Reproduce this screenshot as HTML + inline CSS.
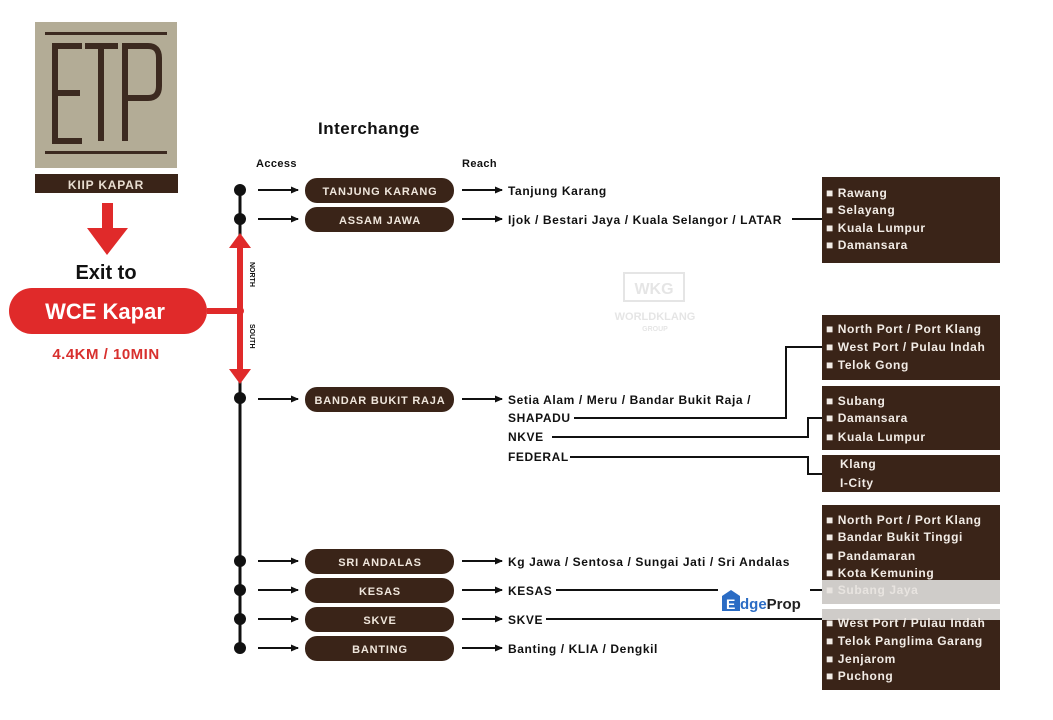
<!DOCTYPE html>
<html><head><meta charset="utf-8"><style>
html,body{margin:0;padding:0;background:#fff;}
svg{display:block}
text{font-family:"Liberation Sans",sans-serif;font-weight:bold;}
</style></head><body>
<svg width="1053" height="720" viewBox="0 0 1053 720" xmlns="http://www.w3.org/2000/svg">
<defs>
<marker id="ah" markerWidth="8" markerHeight="8" refX="7" refY="4" orient="auto" markerUnits="userSpaceOnUse"><path d="M0,0.5 L8,4 L0,7.5 Z" fill="#111"/></marker>
</defs>
<!-- logo -->
<rect x="35" y="22" width="142" height="146" fill="#b3ac96"/>
<rect x="45" y="32" width="122" height="3" fill="#3c2a20"/>
<rect x="45" y="151" width="122" height="3" fill="#3c2a20"/>
<path d="M82,46 H55 V141 H82 M55,93 H80 M85,46 H118 M101,46 V141 M125,141 V46 H148 Q159,46 159,58 V86 Q159,98 148,98 H125" fill="none" stroke="#3c2a20" stroke-width="6"/>
<rect x="35" y="174" width="143" height="19" fill="#3a2418"/>
<text x="106" y="189" fill="#e8ddd0" font-size="12" text-anchor="middle" letter-spacing="0.8">KIIP KAPAR</text>
<!-- red arrow -->
<rect x="102" y="203" width="11" height="27" fill="#e02a2a"/>
<path d="M87,228 L128,228 L107,255 Z" fill="#e02a2a"/>
<text x="106" y="279" font-size="20" text-anchor="middle" fill="#111">Exit to</text>
<rect x="9" y="288" width="198" height="46" rx="23" fill="#e02a2a"/>
<text x="105" y="319" font-size="22" text-anchor="middle" fill="#fff">WCE Kapar</text>
<text x="106" y="359" font-size="15" text-anchor="middle" fill="#d8302e" letter-spacing="0.5">4.4KM / 10MIN</text>
<!-- spine -->
<line x1="240" y1="190" x2="240" y2="648" stroke="#111" stroke-width="3"/>
<rect x="207" y="308" width="33" height="6" fill="#e02a2a"/>
<rect x="237" y="245" width="6" height="127" fill="#e02a2a"/>
<path d="M229,248 L251,248 L240,233 Z" fill="#e02a2a"/>
<path d="M229,369 L251,369 L240,384 Z" fill="#e02a2a"/>
<circle cx="240" cy="311" r="4" fill="#e02a2a"/>
<text x="0" y="0" font-size="7" fill="#111" transform="translate(250,262) rotate(90)">NORTH</text>
<text x="0" y="0" font-size="7" fill="#111" transform="translate(250,324) rotate(90)">SOUTH</text>
<!-- headers -->
<text x="318" y="134" font-size="17" fill="#111" letter-spacing="0.5">Interchange</text>
<text x="256" y="167" font-size="11" fill="#111" letter-spacing="0.4">Access</text>
<text x="462" y="167" font-size="11" fill="#111" letter-spacing="0.4">Reach</text>
<!-- rows -->
<g fill="#111">
<circle cx="240" cy="190" r="6"/><circle cx="240" cy="219" r="6"/><circle cx="240" cy="398" r="6"/>
<circle cx="240" cy="561" r="6"/><circle cx="240" cy="590" r="6"/><circle cx="240" cy="619" r="6"/><circle cx="240" cy="648" r="6"/>
</g>
<g stroke="#111" stroke-width="2" marker-end="url(#ah)">
<line x1="258" y1="190" x2="298" y2="190"/><line x1="258" y1="219" x2="298" y2="219"/><line x1="258" y1="399" x2="298" y2="399"/>
<line x1="258" y1="561" x2="298" y2="561"/><line x1="258" y1="590" x2="298" y2="590"/><line x1="258" y1="619" x2="298" y2="619"/><line x1="258" y1="648" x2="298" y2="648"/>
<line x1="462" y1="190" x2="502" y2="190"/><line x1="462" y1="219" x2="502" y2="219"/><line x1="462" y1="399" x2="502" y2="399"/>
<line x1="462" y1="561" x2="502" y2="561"/><line x1="462" y1="590" x2="502" y2="590"/><line x1="462" y1="619" x2="502" y2="619"/><line x1="462" y1="648" x2="502" y2="648"/>
</g>
<g fill="#3a2418">
<rect x="305" y="178" width="149" height="25" rx="12"/>
<rect x="305" y="207" width="149" height="25" rx="12"/>
<rect x="305" y="387" width="149" height="25" rx="12"/>
<rect x="305" y="549" width="149" height="25" rx="12"/>
<rect x="305" y="578" width="149" height="25" rx="12"/>
<rect x="305" y="607" width="149" height="25" rx="12"/>
<rect x="305" y="636" width="149" height="25" rx="12"/>
</g>
<g fill="#efe6dc" font-size="11" text-anchor="middle" letter-spacing="0.8">
<text x="380" y="195">TANJUNG KARANG</text>
<text x="380" y="224">ASSAM JAWA</text>
<text x="380" y="404">BANDAR BUKIT RAJA</text>
<text x="380" y="566">SRI ANDALAS</text>
<text x="380" y="595">KESAS</text>
<text x="380" y="624">SKVE</text>
<text x="380" y="653">BANTING</text>
</g>
<g fill="#111" font-size="12" letter-spacing="0.6">
<text x="508" y="195">Tanjung Karang</text>
<text x="508" y="224">Ijok / Bestari Jaya / Kuala Selangor / LATAR</text>
<text x="508" y="404">Setia Alam / Meru / Bandar Bukit Raja /</text>
<text x="508" y="422">SHAPADU</text>
<text x="508" y="441">NKVE</text>
<text x="508" y="461">FEDERAL</text>
<text x="508" y="566">Kg Jawa / Sentosa / Sungai Jati / Sri Andalas</text>
<text x="508" y="595">KESAS</text>
<text x="508" y="624">SKVE</text>
<text x="508" y="653">Banting / KLIA / Dengkil</text>
</g>
<!-- connectors -->
<g fill="none" stroke="#111" stroke-width="2">
<line x1="792" y1="219" x2="822" y2="219"/>
<polyline points="574,418 786,418 786,347 822,347"/>
<polyline points="552,437 808,437 808,418 822,418"/>
<polyline points="570,457 808,457 808,474 822,474"/>
<line x1="556" y1="590" x2="822" y2="590"/>
<line x1="546" y1="619" x2="822" y2="619"/>
</g>
<!-- right boxes -->
<g fill="#3a2418">
<rect x="822" y="177" width="178" height="86"/>
<rect x="822" y="315" width="178" height="65"/>
<rect x="822" y="386" width="178" height="64"/>
<rect x="822" y="455" width="178" height="37"/>
<rect x="822" y="505" width="178" height="75"/>
<rect x="822" y="620" width="178" height="70"/>
</g>
<rect x="822" y="580" width="178" height="24" fill="#cfccc9"/>
<rect x="822" y="609" width="178" height="11" fill="#cfccc9"/>
<g fill="#f2ece6" font-size="12" letter-spacing="0.6">
<text x="826" y="197">■ Rawang</text><text x="826" y="214">■ Selayang</text><text x="826" y="232">■ Kuala Lumpur</text><text x="826" y="249">■ Damansara</text>
<text x="826" y="333">■ North Port / Port Klang</text><text x="826" y="351">■ West Port / Pulau Indah</text><text x="826" y="369">■ Telok Gong</text>
<text x="826" y="405">■ Subang</text><text x="826" y="422">■ Damansara</text><text x="826" y="441">■ Kuala Lumpur</text>
<text x="840" y="468">Klang</text><text x="840" y="487">I-City</text>
<text x="826" y="524">■ North Port / Port Klang</text><text x="826" y="541">■ Bandar Bukit Tinggi</text><text x="826" y="560">■ Pandamaran</text><text x="826" y="577">■ Kota Kemuning</text>
<text x="826" y="594" fill="#e8e4e0">■ Subang Jaya</text>
<text x="826" y="627">■ West Port / Pulau Indah</text><text x="826" y="645">■ Telok Panglima Garang</text><text x="826" y="663">■ Jenjarom</text><text x="826" y="680">■ Puchong</text>
</g>
<!-- edgeprop -->
<rect x="718" y="588" width="92" height="26" fill="#fff"/>
<path d="M722,596 L731,590 L740,596 V611 H722 Z" fill="#2b6cc4"/>
<text x="726" y="609" font-size="14" fill="#fff">E</text>
<text x="740" y="609" font-size="15" fill="#2b6cc4">dge<tspan fill="#222">Prop</tspan></text>
<!-- watermark -->
<g opacity="0.25" fill="#999">
<rect x="624" y="273" width="60" height="28" fill="none" stroke="#999" stroke-width="2"/>
<text x="654" y="294" font-size="16" text-anchor="middle">WKG</text>
<text x="655" y="320" font-size="11" text-anchor="middle">WORLDKLANG</text>
<text x="655" y="331" font-size="7" text-anchor="middle">GROUP</text>
</g>
</svg>
</body></html>
